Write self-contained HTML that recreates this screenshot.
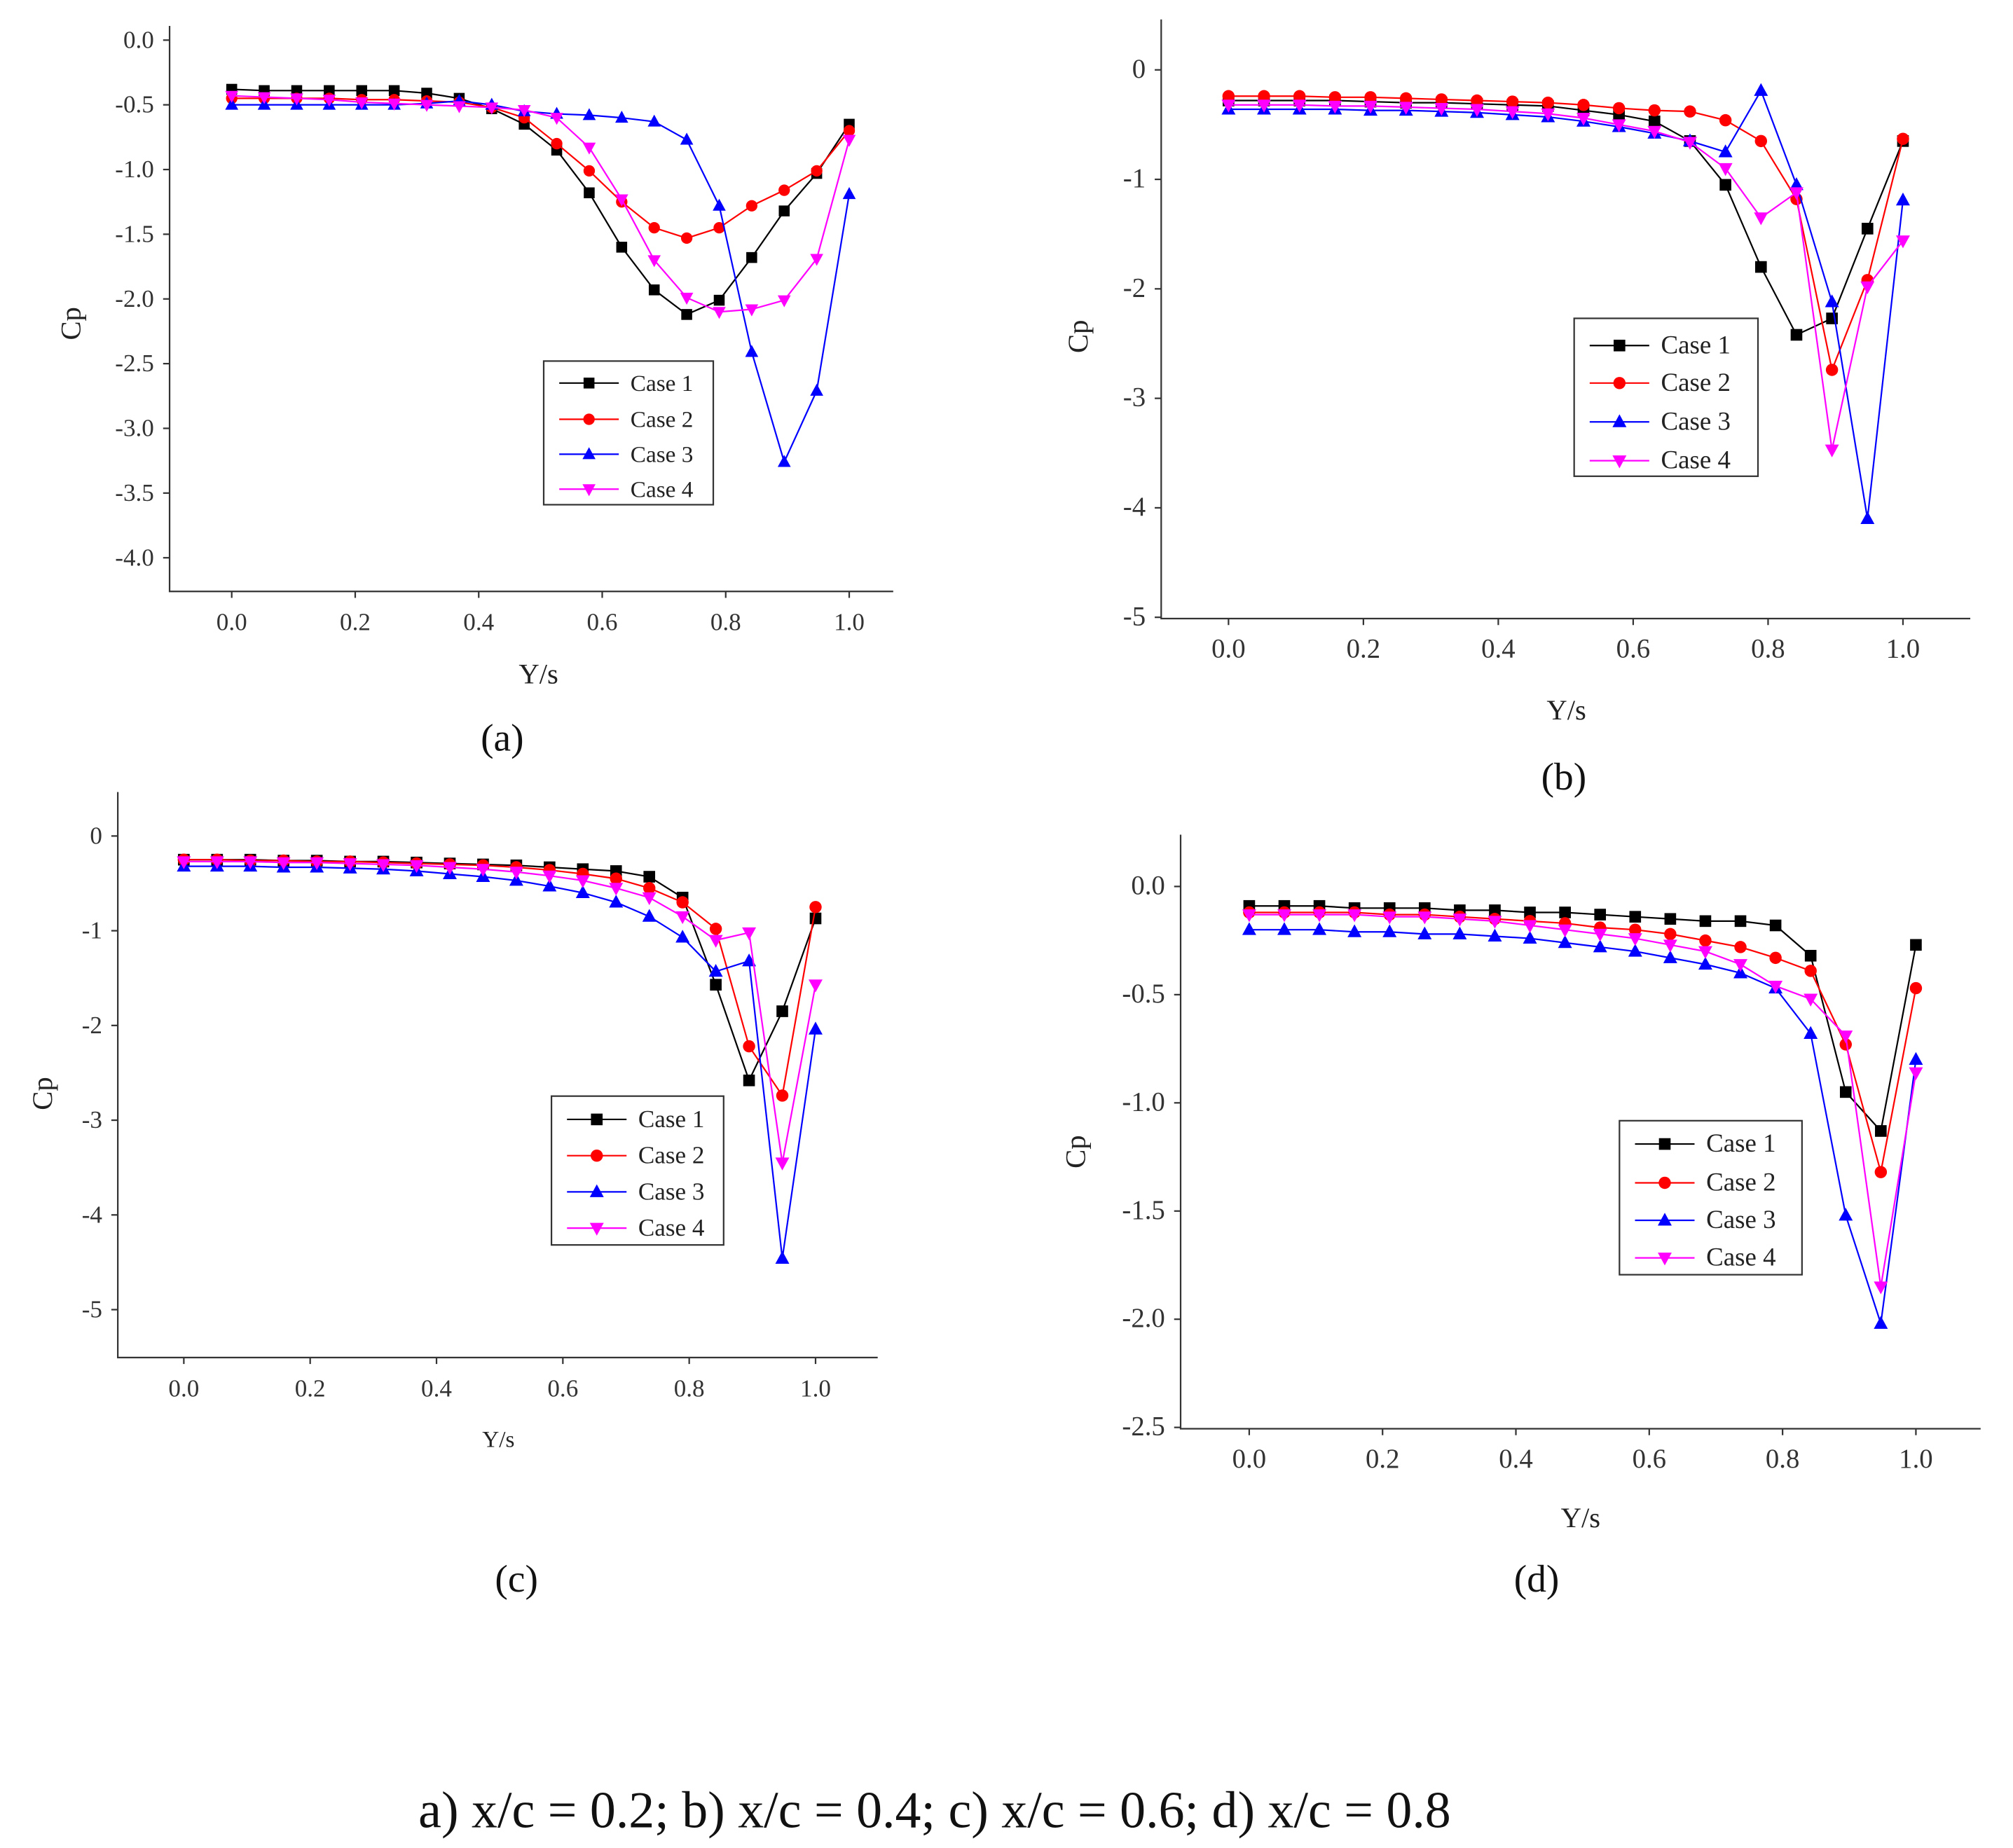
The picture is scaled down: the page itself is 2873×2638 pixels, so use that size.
<!DOCTYPE html>
<html><head><meta charset="utf-8"><style>
html,body{margin:0;padding:0;background:#fff}
svg{display:block}
text{font-family:"Liberation Serif",serif}
.ser{font-family:"Liberation Serif",serif}
</style></head><body>
<svg id="fig" width="2873" height="2638" viewBox="0 0 1555 1428" preserveAspectRatio="none" xmlns="http://www.w3.org/2000/svg">
<rect width="1555" height="1428" fill="#fff"/>
<text class="ser" x="722" y="1412" font-size="40" text-anchor="middle" fill="#111">a) x/c = 0.2; b) x/c = 0.4; c) x/c = 0.6; d) x/c = 0.8</text>
</svg>
<script>
const xVals=[0,1,2,3,4,5,6,7,8,9,10,11,12,13,14,15,16,17,18,19].map(i=>i/19);
const xTicks=[0,0.2,0.4,0.6,0.8,1.0];
const aCase1=[-0.38,-0.39,-0.39,-0.39,-0.39,-0.39,-0.41,-0.45,-0.53,-0.65,-0.85,-1.18,-1.6,-1.93,-2.12,-2.01,-1.68,-1.32,-1.03,-0.65];
const aCase2=[-0.45,-0.45,-0.45,-0.45,-0.46,-0.46,-0.47,-0.48,-0.52,-0.6,-0.8,-1.01,-1.25,-1.45,-1.53,-1.45,-1.28,-1.16,-1.01,-0.7];
const aCase3=[-0.5,-0.5,-0.5,-0.5,-0.5,-0.5,-0.49,-0.47,-0.5,-0.55,-0.57,-0.58,-0.6,-0.63,-0.77,-1.28,-2.41,-3.26,-2.71,-1.19];
const aCase4=[-0.43,-0.44,-0.45,-0.46,-0.48,-0.49,-0.5,-0.51,-0.52,-0.54,-0.6,-0.83,-1.23,-1.7,-1.99,-2.1,-2.08,-2.01,-1.69,-0.77];
const bCase1=[-0.28,-0.28,-0.28,-0.28,-0.29,-0.3,-0.3,-0.31,-0.32,-0.33,-0.37,-0.41,-0.47,-0.65,-1.05,-1.8,-2.42,-2.27,-1.45,-0.65];
const bCase2=[-0.24,-0.24,-0.24,-0.25,-0.25,-0.26,-0.27,-0.28,-0.29,-0.3,-0.32,-0.35,-0.37,-0.38,-0.46,-0.65,-1.18,-2.74,-1.92,-0.63];
const bCase3=[-0.36,-0.36,-0.36,-0.36,-0.37,-0.37,-0.38,-0.39,-0.41,-0.43,-0.47,-0.52,-0.58,-0.65,-0.75,-0.19,-1.05,-2.12,-4.1,-1.19];
const bCase4=[-0.32,-0.32,-0.32,-0.33,-0.33,-0.34,-0.35,-0.36,-0.38,-0.4,-0.44,-0.5,-0.56,-0.66,-0.9,-1.35,-1.12,-3.47,-1.98,-1.56];
const cCase1=[-0.25,-0.25,-0.25,-0.26,-0.26,-0.27,-0.27,-0.28,-0.29,-0.3,-0.31,-0.33,-0.35,-0.37,-0.43,-0.65,-1.57,-2.58,-1.85,-0.87];
const cCase2=[-0.25,-0.25,-0.26,-0.26,-0.27,-0.27,-0.28,-0.29,-0.3,-0.31,-0.33,-0.36,-0.4,-0.45,-0.55,-0.7,-0.98,-2.22,-2.74,-0.75];
const cCase3=[-0.32,-0.32,-0.32,-0.33,-0.33,-0.34,-0.35,-0.37,-0.4,-0.43,-0.47,-0.53,-0.6,-0.7,-0.85,-1.07,-1.43,-1.32,-4.46,-2.04];
const cCase4=[-0.27,-0.27,-0.27,-0.28,-0.28,-0.29,-0.3,-0.31,-0.33,-0.35,-0.38,-0.42,-0.47,-0.55,-0.65,-0.85,-1.1,-1.02,-3.45,-1.57];
const dCase1=[-0.09,-0.09,-0.09,-0.1,-0.1,-0.1,-0.11,-0.11,-0.12,-0.12,-0.13,-0.14,-0.15,-0.16,-0.16,-0.18,-0.32,-0.95,-1.13,-0.27];
const dCase2=[-0.12,-0.12,-0.12,-0.12,-0.13,-0.13,-0.14,-0.15,-0.16,-0.17,-0.19,-0.2,-0.22,-0.25,-0.28,-0.33,-0.39,-0.73,-1.32,-0.47];
const dCase3=[-0.2,-0.2,-0.2,-0.21,-0.21,-0.22,-0.22,-0.23,-0.24,-0.26,-0.28,-0.3,-0.33,-0.36,-0.4,-0.47,-0.68,-1.52,-2.02,-0.8];
const dCase4=[-0.13,-0.13,-0.13,-0.13,-0.14,-0.14,-0.15,-0.16,-0.18,-0.2,-0.22,-0.24,-0.27,-0.3,-0.36,-0.46,-0.52,-0.69,-1.85,-0.86];
const aYTicks=[0,-0.5,-1,-1.5,-2,-2.5,-3,-3.5,-4];
const aYLabels=["0.0","-0.5","-1.0","-1.5","-2.0","-2.5","-3.0","-3.5","-4.0"];
const bYTicks=[0,-1,-2,-3,-4,-5];
const bYLabels=["0","-1","-2","-3","-4","-5"];
const cYTicks=[0,-1,-2,-3,-4,-5];
const cYLabels=["0","-1","-2","-3","-4","-5"];
const dYTicks=[0,-0.5,-1,-1.5,-2,-2.5];
const dYLabels=["0.0","-0.5","-1.0","-1.5","-2.0","-2.5"];
const caseNames=["Case 1","Case 2","Case 3","Case 4"];

const colors=["#000","#f00","#00f","#f0f"];
const shapes=["sq","ci","tu","td"];
const NS="http://www.w3.org/2000/svg";
const svg=document.getElementById('fig');
function mk(tag,attrs,parent){const e=document.createElementNS(NS,tag);for(const k in attrs)e.setAttribute(k,attrs[k]);(parent||svg).appendChild(e);return e;}
function marker(g,shape,x,y,c,s){
  let e;
  if(shape==="sq")e=mk('rect',{x:x-s,y:y-s,width:2*s,height:2*s,fill:c},g);
  else if(shape==="ci")e=mk('circle',{cx:x,cy:y,r:s*1.05,fill:c},g);
  else if(shape==="tu")e=mk('polygon',{points:`${x},${y-s*1.3} ${x-s*1.2},${y+s*0.9} ${x+s*1.2},${y+s*0.9}`,fill:c},g);
  else e=mk('polygon',{points:`${x},${y+s*1.3} ${x-s*1.2},${y-s*0.9} ${x+s*1.2},${y-s*0.9}`,fill:c},g);
  return e;
}
const panels=[
 {id:"a",series:[aCase1,aCase2,aCase3,aCase4],yT:aYTicks,yL:aYLabels,x0:179,x1:656,yv0:0,yp0:31,yv1:-4,yp1:431,L:131,R:690,T:20,B:457,fs:19,lfs:18,xt:[416,528],yt:[62,250],cap:[388,580],leg:[420,279,131,111],legY:[296,324,351,378],ms:4.2},
 {id:"b",series:[bCase1,bCase2,bCase3,bCase4],yT:bYTicks,yL:bYLabels,x0:949,x1:1470,yv0:0,yp0:54,yv1:-5,yp1:477,L:897,R:1522,T:15,B:478,fs:21,lfs:20,xt:[1210,556],yt:[840,260],cap:[1208,610],leg:[1216,246,142,122],legY:[267,296,326,356],ms:4.5},
 {id:"c",series:[cCase1,cCase2,cCase3,cCase4],yT:cYTicks,yL:cYLabels,x0:142,x1:630,yv0:0,yp0:646,yv1:-5,yp1:1012,L:91,R:678,T:612,B:1049,fs:19,lfs:19,xt:[385,1118],yt:[40,845],cap:[399,1230],leg:[426,847,133,115],legY:[865,893,921,949],ms:4.5},
 {id:"d",series:[dCase1,dCase2,dCase3,dCase4],yT:dYTicks,yL:dYLabels,x0:965,x1:1480,yv0:0,yp0:685,yv1:-2.5,yp1:1103,L:912,R:1530,T:645,B:1104,fs:21,lfs:20,xt:[1221,1180],yt:[838,890],cap:[1187,1230],leg:[1251,866,141,119],legY:[884,914,943,972],ms:4.5}
];
panels.forEach(p=>{
  const sx=v=>p.x0+(p.x1-p.x0)*v;
  const sy=v=>p.yp0+(p.yp1-p.yp0)*(v-p.yv0)/(p.yv1-p.yv0);
  const g=mk('g',{});
  
  
  const ax=mk('path',{d:`M${p.L},${p.T}V${p.B}H${p.R}`,stroke:"#333",fill:"none","stroke-width":1.2},g);
  
  
  p.yT.forEach((v,i)=>{
    const y=sy(v);
    mk('line',{x1:p.L-5,x2:p.L,y1:y,y2:y,stroke:"#333","stroke-width":1.2},g);
    const t=mk('text',{x:p.L-12,y:y+6,"font-size":p.fs,"text-anchor":"end",fill:"#333"},g);
    t.textContent=p.yL[i];
    
    
  });
  xTicks.forEach(v=>{
    const x=sx(v);
    mk('line',{x1:x,x2:x,y1:p.B,y2:p.B+5,stroke:"#333","stroke-width":1.2},g);
    const t=mk('text',{x:x,y:p.B+30,"font-size":p.fs,"text-anchor":"middle",fill:"#333"},g);
    t.textContent=v.toFixed(1);
    
    
  });
  const xt=mk('text',{x:p.xt[0],y:p.xt[1],"font-size":p.id==="c"?18:22,"text-anchor":"middle",fill:"#222",class:"ser"},g);
  xt.textContent="Y/s";
  
  
  const yt=mk('text',{x:0,y:0,"font-size":22,"text-anchor":"middle",fill:"#222",class:"ser",transform:`translate(${p.yt[0]},${p.yt[1]}) rotate(-90)`},g);
  yt.textContent="Cp";
  
  
  const cap=mk('text',{x:p.cap[0],y:p.cap[1],"font-size":30,"text-anchor":"middle",fill:"#111",class:"ser"},g);
  cap.textContent="("+p.id+")";
  
  
  p.series.forEach((s,k)=>{
    const sg=mk('g',{},g);
    
    
    const pl=mk('polyline',{points:s.map((v,i)=>sx(xVals[i])+","+sy(v)).join(" "),fill:"none",stroke:colors[k],"stroke-width":1.2},sg);
    
    
    s.forEach((v,i)=>{
      const m=marker(sg,shapes[k],sx(xVals[i]),sy(v),colors[k],p.ms);
      
      
    });
  });
  const lg=mk('g',{},g);
  
  
  mk('rect',{x:p.leg[0],y:p.leg[1],width:p.leg[2],height:p.leg[3],fill:"#fff",stroke:"#333","stroke-width":1.2},lg);
  caseNames.forEach((n,k)=>{
    const y=p.legY[k], x=p.leg[0];
    const e=mk('g',{},lg);
    
    
    mk('line',{x1:x+12,x2:x+58,y1:y,y2:y,stroke:colors[k],"stroke-width":1.2},e);
    marker(e,shapes[k],x+35,y,colors[k],p.ms);
    const t=mk('text',{x:x+67,y:y+6,"font-size":p.lfs,fill:"#222"},e);
    t.textContent=n;
  });
});
</script>
</body></html>
